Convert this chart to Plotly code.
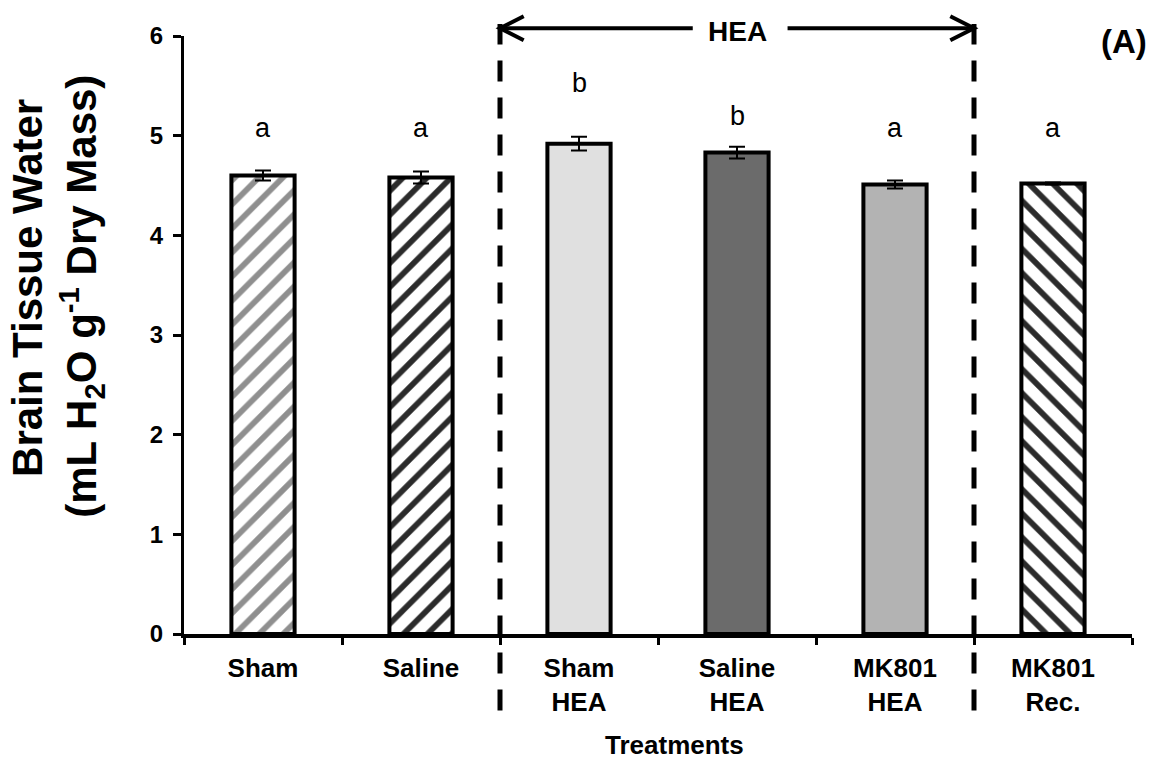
import plotly.graph_objects as go

# Treatment groups and measured brain tissue water (mean ± SE)
treatments = ["Sham", "Saline", "Sham<br>HEA", "Saline<br>HEA", "MK801<br>HEA", "MK801<br>Rec."]
water_mean = [4.60, 4.58, 4.92, 4.83, 4.51, 4.52]
water_se = [0.05, 0.06, 0.07, 0.06, 0.04, 0.01]
sig_letters = ["a", "a", "b", "b", "a", "a"]

# Bar styling per treatment
fill_colors = ["white", "white", "#e0e0e0", "#6b6b6b", "#b3b3b3", "white"]
hatch_shapes = ["/", "/", "", "", "", "\\"]
hatch_colors = ["#8f8f8f", "#2b2b2b", "black", "black", "black", "#2b2b2b"]

FONT = "Liberation Sans, Arial, sans-serif"

fig = go.Figure()
# One trace per treatment so each bar keeps its own hatch colour
for cat, mean, se, fill, shp, fg in zip(treatments, water_mean, water_se,
                                        fill_colors, hatch_shapes, hatch_colors):
    fig.add_trace(go.Bar(
        x=[cat],
        y=[mean],
        width=0.4,
        marker=dict(
            color=fill,
            line=dict(color="black", width=4),
            pattern=dict(shape=shp, fgcolor=fg, bgcolor=fill, fgopacity=1,
                         size=17, solidity=0.34),
        ),
        error_y=dict(type="data", array=[se], color="black", thickness=2, width=8),
        showlegend=False,
    ))

# Significance letters above each bar
letter_y = [4.91, 4.91, 5.36, 5.03, 4.91, 4.91]
annotations = []
for cat, letter, ly in zip(treatments, sig_letters, letter_y):
    annotations.append(dict(
        x=cat, y=ly, xref="x", yref="y", text=letter, showarrow=False,
        xanchor="center", yanchor="bottom",
        font=dict(family=FONT, size=27, color="black"),
    ))

# Y axis title (two lines)
title_font = dict(family=FONT, size=42, color="black", weight="bold")
annotations.append(dict(
    x=-0.165, y=0.578, xref="paper", yref="paper", text="Brain Tissue Water",
    textangle=-90, showarrow=False, xanchor="center", yanchor="middle", font=title_font,
))
annotations.append(dict(
    x=-0.109, y=0.565, xref="paper", yref="paper",
    text="(mL H<sub>2</sub>O g<sup>-1</sup> Dry Mass)",
    textangle=-90, showarrow=False, xanchor="center", yanchor="middle", font=title_font,
))
# X axis title
annotations.append(dict(
    x=0.517, y=-0.186, xref="paper", yref="paper", text="Treatments",
    showarrow=False, xanchor="center", yanchor="middle",
    font=dict(family=FONT, size=26, color="black", weight="bold"),
))
# Panel label
annotations.append(dict(
    x=0.992, y=0.99, xref="paper", yref="paper", text="(A)",
    showarrow=False, xanchor="center", yanchor="middle",
    font=dict(family=FONT, size=33, color="black", weight="bold"),
))
# HEA bracket label
annotations.append(dict(
    x=3.0, y=1.0067, xref="x", yref="paper", text="HEA",
    showarrow=False, xanchor="center", yanchor="middle",
    font=dict(family=FONT, size=28, color="black", weight="bold"),
))

shapes = []
# Dashed boundaries of the HEA period
for xb in (1.5, 4.5):
    shapes.append(dict(
        type="line", xref="x", yref="paper", x0=xb, x1=xb, y0=-0.128, y1=1.02,
        line=dict(color="black", width=5, dash="21px,16px"),
    ))
# Double-headed arrow spanning the HEA period
arrow_y = 1.013
shapes.append(dict(type="line", xref="x", yref="paper", x0=1.5, x1=2.72,
                   y0=arrow_y, y1=arrow_y, line=dict(color="black", width=4)))
shapes.append(dict(type="line", xref="x", yref="paper", x0=3.32, x1=4.5,
                   y0=arrow_y, y1=arrow_y, line=dict(color="black", width=4)))
head_dx, head_dy = 0.15, 0.02
shapes.append(dict(
    type="path", xref="x", yref="paper",
    path=f"M {1.5 + head_dx},{arrow_y + head_dy} L 1.5,{arrow_y} L {1.5 + head_dx},{arrow_y - head_dy}",
    line=dict(color="black", width=4),
))
shapes.append(dict(
    type="path", xref="x", yref="paper",
    path=f"M {4.5 - head_dx},{arrow_y + head_dy} L 4.5,{arrow_y} L {4.5 - head_dx},{arrow_y - head_dy}",
    line=dict(color="black", width=4),
))

fig.update_layout(
    width=1159, height=765,
    margin=dict(l=184, r=27, t=36, b=131),
    plot_bgcolor="white", paper_bgcolor="white",
    font=dict(family=FONT, color="black"),
    annotations=annotations,
    shapes=shapes,
    barmode="overlay",
)
fig.update_xaxes(
    type="category", categoryorder="array", categoryarray=treatments,
    showline=True, linecolor="black", linewidth=4,
    ticks="outside", tickson="boundaries", ticklen=7, tickwidth=3, tickcolor="black",
    ticklabelstandoff=8,
    tickfont=dict(family=FONT, size=26, color="black", weight="bold"),
    showgrid=False, zeroline=False,
)
fig.update_yaxes(
    range=[0, 6], dtick=1,
    showline=True, linecolor="black", linewidth=3,
    ticks="outside", ticklen=8, tickwidth=3, tickcolor="black",
    ticklabelstandoff=5,
    tickfont=dict(family=FONT, size=24, color="black", weight="bold"),
    showgrid=False, zeroline=False,
)

fig.write_html("out.html")
